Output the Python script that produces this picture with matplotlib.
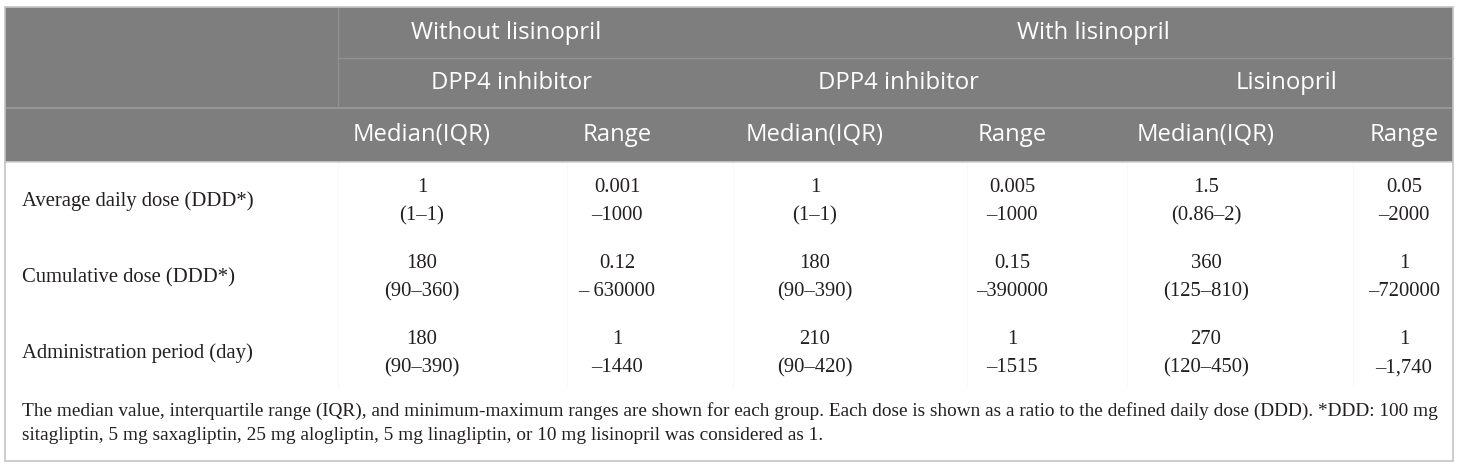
import matplotlib
matplotlib.use("Agg")
import matplotlib.pyplot as plt

# ---------------- data ----------------
groups = ["Without lisinopril", "With lisinopril"]
drugs = ["DPP4 inhibitor", "DPP4 inhibitor", "Lisinopril"]
stats = ["Median(IQR)", "Range"]
row_labels = ["Average daily dose (DDD*)", "Cumulative dose (DDD*)",
              "Administration period (day)"]
median_vals = [["1", "1", "1.5"],
               ["180", "180", "360"],
               ["180", "210", "270"]]
iqr_vals = [["(1\u20131)", "(1\u20131)", "(0.86\u20132)"],
            ["(90\u2013360)", "(90\u2013390)", "(125\u2013810)"],
            ["(90\u2013390)", "(90\u2013420)", "(120\u2013450)"]]
range_min = [["0.001", "0.005", "0.05"],
             ["0.12", "0.15", "1"],
             ["1", "1", "1"]]
range_max = [["\u20131000", "\u20131000", "\u20132000"],
             ["\u2013 630000", "\u2013390000", "\u2013720000"],
             ["\u20131440", "\u20131515", "\u20131,740"]]
footnote = ["The median value, interquartile range (IQR), and minimum-maximum ranges are shown for each group. "
            "Each dose is shown as a ratio to the defined daily dose (DDD). *DDD: 100 mg",
            "sitagliptin, 5 mg saxagliptin, 25 mg alogliptin, 5 mg linagliptin, or 10 mg lisinopril was considered as 1."]

# ---------------- layout (pixels) ----------------
W, H = 1460, 470
fig = plt.figure(figsize=(W / 100, H / 100), dpi=100)
ax = fig.add_axes([0, 0, 1, 1])
ax.set_xlim(0, W)
ax.set_ylim(H, 0)
ax.axis("off")

left, right, top, bottom = 5, 1453, 7, 461
head_bot = 162
hline1, hline2 = 58, 108
first_col = 338
group_x = [506, 1093]
drug_x = [511, 898, 1287]
med_x = [422, 815, 1206]
rng_x = [617, 1012, 1404]
row_y = [(187, 216), (263, 292), (339, 368)]
head_y = [33, 83, 135]
foot_y = [411, 436]

head_bg = "#7e7e7e"
head_line = "#929292"
border = "#c4c4c4"
txt = "#231f20"

hfont = "Open Sans"
bfont = "Liberation Serif"

renderer = fig.canvas.get_renderer()


def fit_size(s, family, target, base=12):
    t = ax.text(0, 0, s, fontsize=base, family=family)
    w = t.get_window_extent(renderer=renderer).width
    t.remove()
    return base * target / w


hsize = fit_size("Median(IQR)", hfont, 137)
bsize = fit_size(row_labels[0], bfont, 232)
fsize = fit_size(footnote[0], bfont, 1412)

# header background
ax.add_patch(plt.Rectangle((left, top), right - left, head_bot - top,
                           facecolor=head_bg, edgecolor="none", zorder=1))
# header lines
ax.plot([first_col, right], [hline1, hline1], color=head_line, lw=1.0, zorder=2)
ax.plot([left, right], [hline2, hline2], color="#9a9a9a", lw=1.2, zorder=2)
ax.plot([first_col, first_col], [top, hline2], color=head_line, lw=0.8, zorder=2)
ax.plot([left, right], [head_bot, head_bot], color="#d0d0d0", lw=1.2, zorder=2)

# faint body column separators
for x in [338, 567, 733, 967, 1127, 1353]:
    ax.plot([x, x], [head_bot, 388], color="#f8f8f8", lw=0.6, zorder=1)

# outer border
ax.add_patch(plt.Rectangle((left, top), right - left, bottom - top,
                           facecolor="none", edgecolor=border, lw=1.2, zorder=3))

# header text
for gx, g in zip(group_x, groups):
    ax.text(gx, head_y[0], g, ha="center", va="center", color="white",
            fontsize=hsize, family=hfont, zorder=4)
for dx, d in zip(drug_x, drugs):
    ax.text(dx, head_y[1], d, ha="center", va="center", color="white",
            fontsize=hsize, family=hfont, zorder=4)
for mx, rx in zip(med_x, rng_x):
    ax.text(mx, head_y[2], stats[0], ha="center", va="center", color="white",
            fontsize=hsize, family=hfont, zorder=4)
    ax.text(rx, head_y[2], stats[1], ha="center", va="center", color="white",
            fontsize=hsize, family=hfont, zorder=4)

# body
for i, lab in enumerate(row_labels):
    y1, y2 = row_y[i]
    ax.text(22, (y1 + y2) / 2, lab, ha="left", va="center", color=txt,
            fontsize=bsize, family=bfont)
    for j in range(3):
        ax.text(med_x[j], y1, median_vals[i][j], ha="center", va="center",
                color=txt, fontsize=bsize, family=bfont)
        ax.text(med_x[j], y2, iqr_vals[i][j], ha="center", va="center",
                color=txt, fontsize=bsize, family=bfont)
        ax.text(rng_x[j], y1, range_min[i][j], ha="center", va="center",
                color=txt, fontsize=bsize, family=bfont)
        ax.text(rng_x[j], y2, range_max[i][j], ha="center", va="center",
                color=txt, fontsize=bsize, family=bfont)

for fy, line in zip(foot_y, footnote):
    ax.text(22, fy, line, ha="left", va="center", color=txt,
            fontsize=fsize, family=bfont)

fig.savefig("out.png", dpi=100, facecolor="white")
